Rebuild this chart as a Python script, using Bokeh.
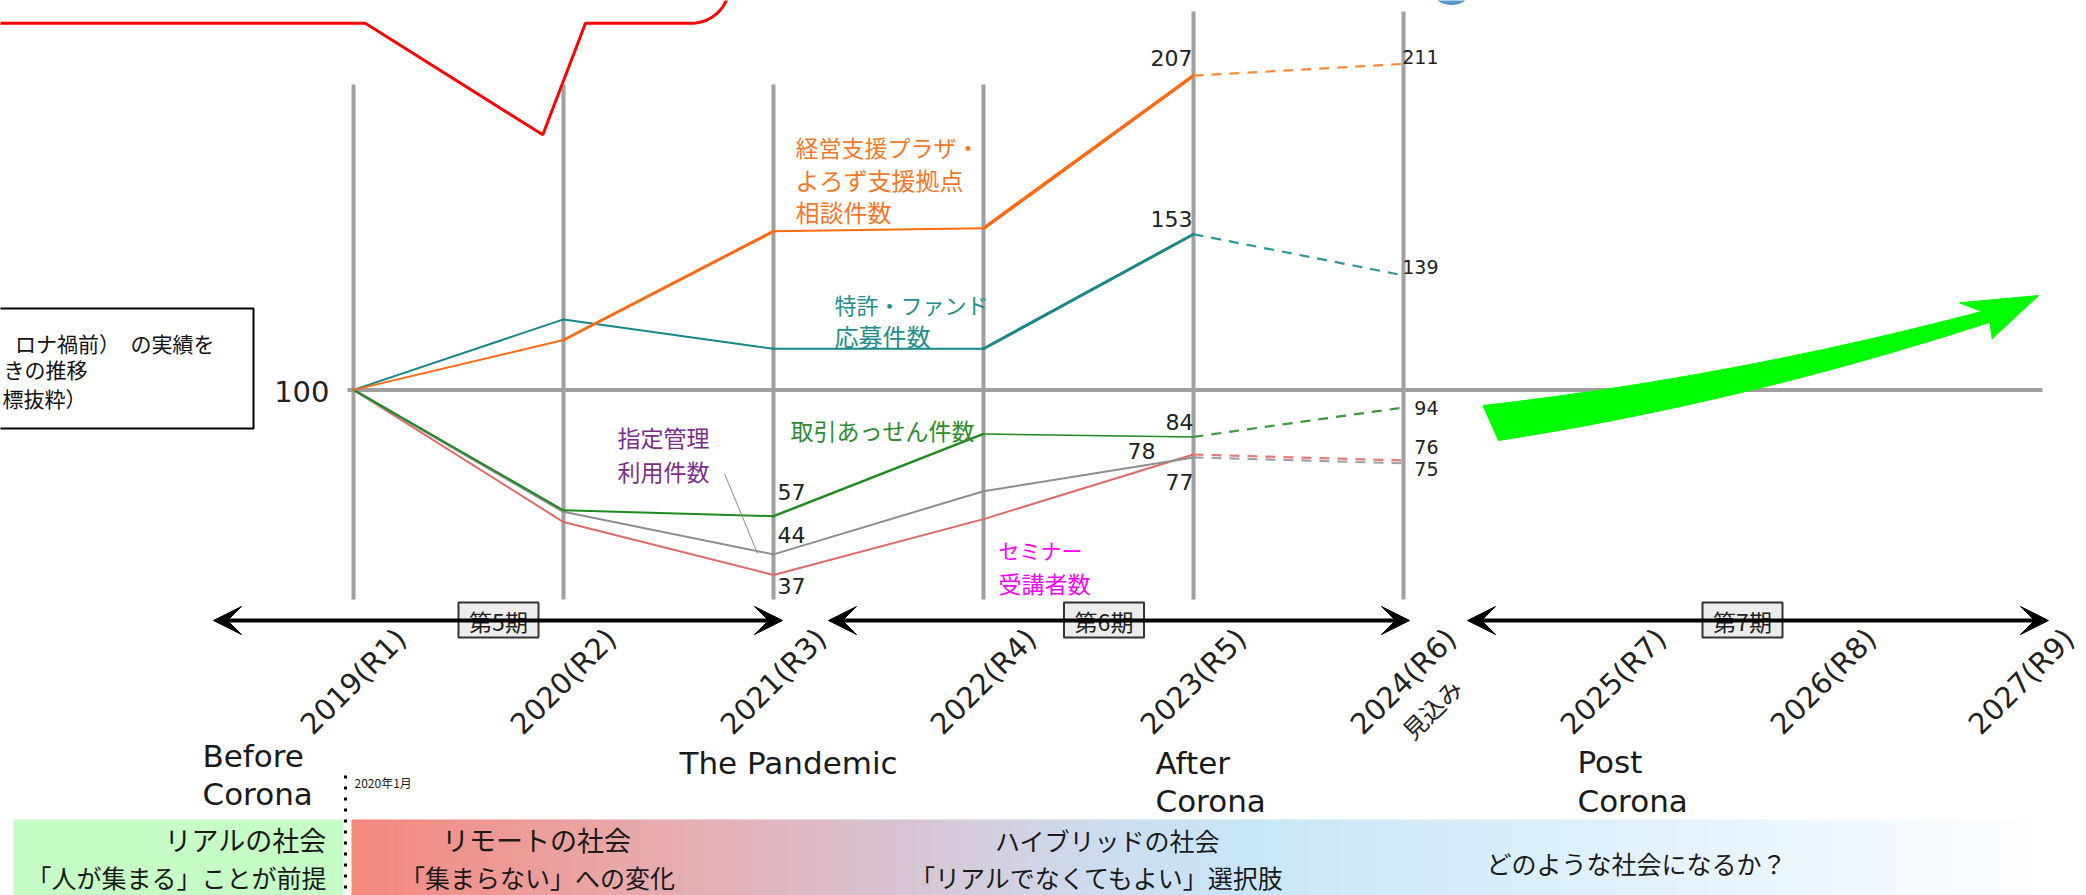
import numpy as np
from bokeh.plotting import figure
from bokeh.models import Range1d, Arrow, VeeHead
from bokeh.embed import file_html
from bokeh.resources import INLINE
from bokeh.core.properties import value

# ---------------- data ----------------
years = ["2019(R1)", "2020(R2)", "2021(R3)", "2022(R4)", "2023(R5)",
         "2024(R6)", "2025(R7)", "2026(R8)", "2027(R9)"]
year_idx = list(range(len(years)))
actual_idx = [0, 1, 2, 3, 4]
est_idx = [4, 5]
base_value = 100

consult = [100, 117, 154, 155, 207]      # 経営支援プラザ・よろず支援拠点 相談件数
consult_est = [207, 211]
patent = [100, 124, 114, 114, 153]       # 特許・ファンド 応募件数
patent_est = [153, 139]
deal = [100, 59, 57, 85, 84]             # 取引あっせん件数
deal_est = [84, 94]
facility = [100, 58.5, 44, 65.5, 77]     # 指定管理 利用件数
facility_est = [77, 75]
seminar = [100, 55, 37, 56, 78]          # セミナー受講者数
seminar_est = [78, 76]

periods = ["第5期", "第6期", "第7期"]
era_en = [["Before", "Corona"], ["The Pandemic"], ["After", "Corona"], ["Post", "Corona"]]
society = ["リアルの社会", "「人が集まる」ことが前提",
           "リモートの社会", "「集まらない」への変化",
           "ハイブリッドの社会", "「リアルでなくてもよい」選択肢",
           "どのような社会になるか？"]
note = ["ロナ禍前）　の実績を", "きの推移", "標抜粋）"]

# ---------------- layout ----------------
W, H = 2086, 895
X0, SX = 353.0, 210.0
Y0, SY = 389.4, 2.937

def fx(px):
    return (np.asarray(px, dtype=float) - X0) / SX

def fy(py):
    return base_value - (np.asarray(py, dtype=float) - Y0) / SY

JP = value("Noto Sans CJK JP")
LAT = value("DejaVu Sans")

p = figure(width=W, height=H, x_range=Range1d(float(fx(0)), float(fx(W))),
           y_range=Range1d(float(fy(H)), float(fy(0))),
           output_backend="svg", toolbar_location=None,
           x_axis_location=None, y_axis_location=None, min_border=0,
           background_fill_color="white", border_fill_color="white")
p.grid.visible = False
p.outline_line_color = None

# ---- bottom band ----
p.quad(left=fx(13), right=fx(343), top=fy(819), bottom=fy(900),
       fill_color="#C6FCC6", line_color=None)
stops_px = [351, 600, 870, 1100, 1250, 1600, 2031]
stops_rgb = [(243, 135, 125), (234, 165, 165), (218, 192, 206), (205, 220, 238),
             (200, 230, 248), (222, 240, 251), (253, 254, 255)]
edges = np.arange(351, 2031, 3.0)
mids = edges + 1.5
cols = []
for m in mids:
    c = [int(round(np.interp(m, stops_px, [s[k] for s in stops_rgb]))) for k in range(3)]
    cols.append("#%02x%02x%02x" % tuple(c))
p.quad(left=fx(edges), right=fx(np.minimum(edges + 3.6, 2031)), top=fy(819), bottom=fy(900),
       fill_color=cols, line_color=None)

# dotted "2020年1月" line
p.segment(x0=[float(fx(345))], y0=[float(fy(775))], x1=[float(fx(345))], y1=[float(fy(900))],
          line_color="black", line_width=3, line_dash="3 8")
p.text(x=[float(fx(354))], y=[float(fy(782))], text=["2020年1月"], text_font=JP,
       text_font_size="12px", text_color="#222222", text_baseline="middle")

# band texts
band_x = [326, 326, 536, 537, 1107, 1097, 1636]
band_y = [839, 876, 839, 876, 839, 876, 862]
band_al = ["right", "right", "center", "center", "center", "center", "center"]
band_fs = ["27px", "25px", "27px", "25px", "25px", "25px", "25px"]
for t, bx, by, al, fs in zip(society, band_x, band_y, band_al, band_fs):
    p.text(x=[float(fx(bx))], y=[float(fy(by))], text=[t], text_font=JP,
           text_font_size=fs, text_color="#1a1a1a", text_align=al, text_baseline="middle")

# ---- grid lines ----
tops = [84, 84, 84, 84, 11, 11]
p.segment(x0=year_idx[:6], y0=list(fy(tops)), x1=year_idx[:6], y1=[float(fy(599))] * 6,
          line_color="#a0a0a0", line_width=4)
p.segment(x0=[float(fx(347))], y0=[base_value], x1=[float(fx(2042))], y1=[base_value],
          line_color="#a0a0a0", line_width=4)

# ---- series ----
def draw(vals, est, color, widths, dcolor):
    p.segment(x0=actual_idx[:-1], y0=vals[:-1], x1=actual_idx[1:], y1=vals[1:],
              line_color=color, line_width=widths, line_cap="round")
    p.line(est_idx, est, line_color=dcolor, line_width=2.2, line_dash="10 8")

draw(seminar, seminar_est, "#E06868", [2, 2, 2, 2], "#E57A7A")
draw(facility, facility_est, "#8E8E8E", [2.5, 2, 2, 2], "#A0A0A0")
draw(deal, deal_est, "#1F8A1F", [2, 2, 2.5, 1.5], "#3C9A3C")
draw(patent, patent_est, "#178787", [2, 2, 2, 3], "#2E9696")
draw(consult, consult_est, "#FF6A13", [2, 3, 2, 3.5], "#FF8A3D")

# ---- value labels ----
def vlabel(i, v, dxp, dyp, align, size):
    p.text(x=[i + dxp / SX], y=[v - dyp / SY], text=[str(int(round(v)))], text_font=LAT,
           text_font_size=size, text_color="#222222", text_align=align, text_baseline="middle")

vlabel(2, deal[2], 4, -24, "left", "22px")
vlabel(2, facility[2], 4, -19, "left", "22px")
vlabel(2, seminar[2], 4, 11, "left", "22px")
vlabel(4, consult[4], -1, -18, "right", "22px")
vlabel(4, patent[4], -1, -15, "right", "22px")
vlabel(4, deal[4], 0, -15, "right", "22px")
vlabel(4, seminar[4], -38, -4, "right", "22px")
vlabel(4, facility[4], 0, 25, "right", "22px")
vlabel(5, consult_est[1], 35, -7, "right", "19px")
vlabel(5, patent_est[1], 35, -8, "right", "19px")
vlabel(5, deal_est[1], 35, 0, "right", "19px")
vlabel(5, seminar_est[1], 35, -13, "right", "19px")
vlabel(5, facility_est[1], 35, 6, "right", "19px")
p.text(x=[float(fx(329))], y=[float(fy(391))], text=[str(base_value)], text_font=LAT,
       text_font_size="29px", text_color="#222222", text_align="right", text_baseline="middle")

# ---- series names ----
def names(lines, lx, ys, color, sizes):
    for t, yy, s in zip(lines, ys, sizes):
        p.text(x=[float(fx(lx))], y=[float(fy(yy))], text=[t], text_font=JP,
               text_font_size=s, text_color=color, text_baseline="middle")

names(["経営支援プラザ・", "よろず支援拠点", "相談件数"], 795, [146, 179, 211], "#F5782A",
      ["23px", "24px", "24px"])
names(["特許・ファンド", "応募件数"], 834, [303, 335], "#238C8C", ["22px", "24px"])
names(["取引あっせん件数"], 790, [429], "#2E8B2E", ["23px"])
names(["指定管理", "利用件数"], 617, [436, 470], "#7A2D8C", ["23px", "23px"])
names(["セミナー", "受講者数"], 998, [549, 582], "#FF00FF", ["21px", "23px"])
p.segment(x0=[float(fx(724))], y0=[float(fy(473))], x1=[float(fx(757))], y1=[float(fy(553))],
          line_color="#8a8a8a", line_width=1)

# ---- left note box ----
p.quad(left=fx(-10), right=fx(253), top=fy(308), bottom=fy(428),
       fill_color="white", line_color="black", line_width=2)
p.text(x=[float(fx(214))], y=[float(fy(342))], text=[note[0]], text_font=JP,
       text_font_size="21px", text_color="#111111", text_align="right", text_baseline="middle")
p.text(x=[float(fx(3)), float(fx(2))], y=[float(fy(368)), float(fy(397))], text=note[1:],
       text_font=JP, text_font_size="21px", text_color="#111111",
       text_align="left", text_baseline="middle")

# ---- year labels ----
label_shift_px = [0, 0, 0, 0, 0, 0, 0, 0, -12]   # keep the last label inside the page
p.text(x=[i + s / SX for i, s in zip(year_idx, label_shift_px)],
       y=[float(fy(681))] * len(years), text=years, angle=45, angle_units="deg",
       text_font=LAT, text_font_size="29px", text_color="#222222",
       text_align="center", text_baseline="middle")
p.text(x=[5 + 28 / SX], y=[float(fy(708))], text=["見込み"], angle=45, angle_units="deg",
       text_font=JP, text_font_size="24px", text_color="#222222",
       text_align="center", text_baseline="middle")

# ---- era labels ----
era_pos = [(202, [755, 793]), (679, [762]), (1155, [762, 800]), (1577, [761, 800])]
for lines, (lx, ys) in zip(era_en, era_pos):
    for t, yy in zip(lines, ys):
        p.text(x=[float(fx(lx))], y=[float(fy(yy))], text=[t], text_font=LAT,
               text_font_size="31px", text_color="#1a1a1a", text_baseline="middle")

# ---- period arrows ----
arrows_px = [(213, 782, 498), (828, 1409, 1103.5), (1467, 2048, 1742)]
for (a, b, c), name in zip(arrows_px, periods):
    p.add_layout(Arrow(start=VeeHead(size=28, fill_color="black", line_color="black"),
                       end=VeeHead(size=28, fill_color="black", line_color="black"),
                       x_start=float(fx(a)), y_start=float(fy(620)),
                       x_end=float(fx(b)), y_end=float(fy(620)),
                       line_color="black", line_width=4))
    p.rect(x=[float(fx(c))], y=[float(fy(619.5))], width=80, height=35,
           width_units="screen", height_units="screen",
           fill_color="#ECECEC", line_color="#333333", line_width=2)
    p.text(x=[float(fx(c))], y=[float(fy(620))], text=[name], text_font=JP,
           text_font_size="23px", text_color="#222222", text_align="center", text_baseline="middle")

# ---- green trend arrow ----
def qbez(a, c, b, n=40):
    t = np.linspace(0, 1, n)[:, None]
    a, c, b = np.array(a), np.array(c), np.array(b)
    return (1 - t) ** 2 * a + 2 * (1 - t) * t * c + t ** 2 * b

up = qbez((1482.5, 405.0), (1732.0, 376.6), (1981.4, 311.0))
lo = qbez((1989.5, 321.7), (1743.7, 401.8), (1497.9, 440.0))
head = np.array([(1959.0, 302.3), (2038.0, 295.0), (1991.6, 338.3)])
poly = np.vstack([up, head, lo])
p.patch(x=fx(poly[:, 0]), y=fy(poly[:, 1]), fill_color="#00FF00", line_color="#00FF00", line_width=1)

# ---- red callout ----
ang = np.radians(np.linspace(0, 90, 30))
arc_x = 691 + 38 * np.sin(ang)
arc_y = -15.3 + 38 * np.cos(ang)
bx = np.concatenate([[-5, 364.8, 542.3, 585, 691], arc_x])
by = np.concatenate([[22.7, 22.7, 134.3, 22.7, 22.7], arc_y])
p.line(x=fx(bx), y=fy(by), line_color="#FF0000", line_width=3)

# small blue shape at top edge
p.ellipse(x=[float(fx(1451))], y=[float(fy(-9))], width=36, height=26,
          width_units="screen", height_units="screen",
          fill_color="#5B9BD5", line_color="#3F7FC0")

open("out.html", "w").write(file_html(p, INLINE))
